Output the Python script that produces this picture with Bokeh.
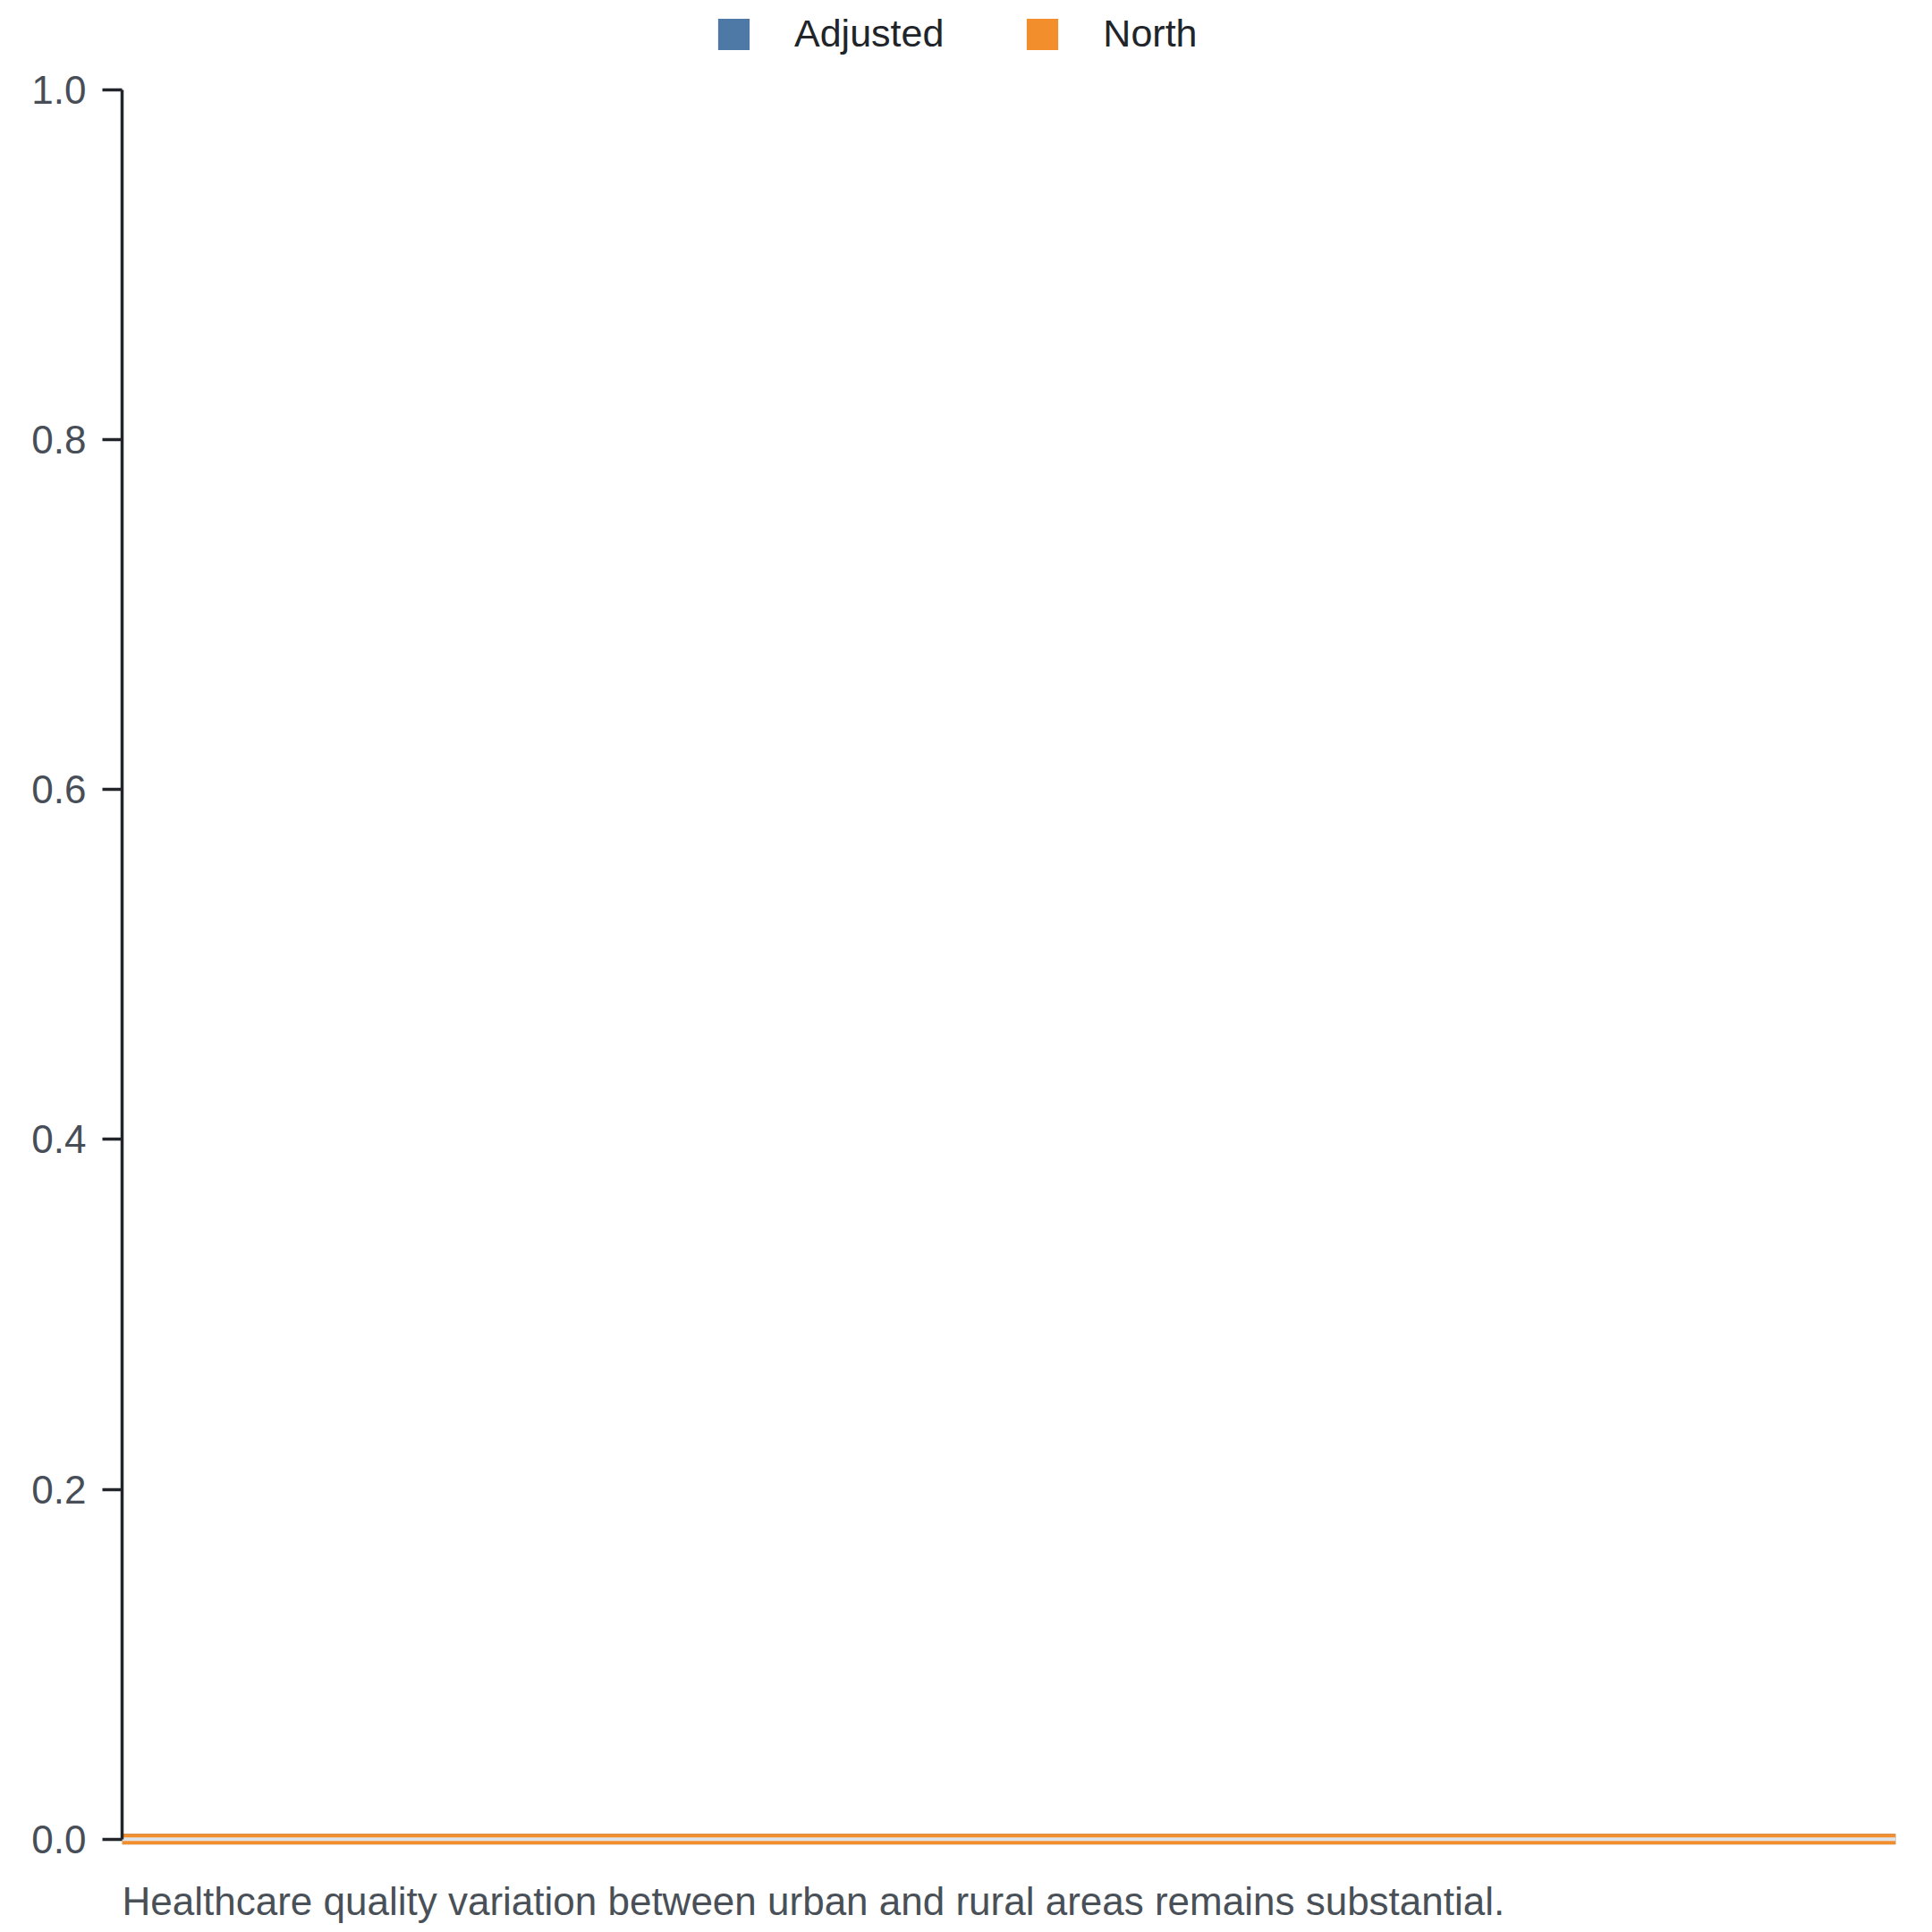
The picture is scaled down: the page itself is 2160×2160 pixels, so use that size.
from bokeh.plotting import figure
from bokeh.models import Legend, LegendItem, FixedTicker, PrintfTickFormatter, Range1d, Title
from bokeh.embed import file_html
from bokeh.resources import INLINE

# ---- data ----
periods = [1, 2, 3, 4, 5, 6]
adjusted = [0, 0, 0, 0, 0, 0]
north = [0, 0, 0, 0, 0, 0]
y_ticks = [0.0, 0.2, 0.4, 0.6, 0.8, 1.0]
series_names = ["Adjusted", "North"]
caption = "Healthcare quality variation between urban and rural areas remains substantial."

BLUE = "#4e79a7"
ORANGE = "#f28e2b"
FONT = "Liberation Sans"

p = figure(
    frame_width=1983, frame_height=2062,
    min_border_left=136, min_border_right=25, min_border_top=0, min_border_bottom=60,
    x_range=Range1d(min(periods), max(periods)),
    y_range=Range1d(-0.00322, 1.05113),
    x_axis_location=None,
    output_backend="svg", toolbar_location=None,
    background_fill_color="white", border_fill_color="white",
)
p.outline_line_color = None
p.grid.visible = False

yaxis = p.yaxis[0]
yaxis.ticker = FixedTicker(ticks=y_ticks)
yaxis.formatter = PrintfTickFormatter(format="%.1f")
yaxis.bounds = (0, 1)
yaxis.axis_line_color = "#212529"
yaxis.axis_line_width = 3.5
yaxis.major_tick_line_color = "#212529"
yaxis.major_tick_line_width = 3.5
yaxis.major_tick_out = 22
yaxis.major_tick_in = 0
yaxis.minor_tick_out = 0
yaxis.minor_tick_in = 0
yaxis.major_label_standoff = 18
yaxis.major_label_text_font = FONT
yaxis.major_label_text_font_size = "44px"
yaxis.major_label_text_color = "#474e57"

# legend proxies (zero-height areas)
r_adj = p.varea(x=periods, y1=[0] * len(periods), y2=adjusted, fill_color=BLUE)
r_north = p.varea(x=periods, y1=[0] * len(periods), y2=north, fill_color=ORANGE)

# visible series lines at zero
p.line(periods, adjusted, line_color=BLUE, line_width=12)
p.line(periods, north, line_color=ORANGE, line_width=12)
p.line(periods, north, line_color="#e1e4e7", line_width=4)

legend = Legend(
    items=[LegendItem(label=series_names[0], renderers=[r_adj]),
           LegendItem(label=series_names[1], renderers=[r_north])],
    orientation="horizontal",
    location=(662, 2000),
    glyph_width=44, glyph_height=44,
    label_standoff=46, spacing=88,
    padding=0, margin=0,
    label_text_font=FONT, label_text_font_size="43px", label_text_color="#212529",
    border_line_color=None, background_fill_alpha=0,
)
p.add_layout(legend, "center")

p.add_layout(Title(text=caption, align="left", text_font=FONT, text_font_size="44px",
                   text_font_style="normal", text_color="#495057", standoff=73), "below")

open("out.html", "w").write(file_html(p, INLINE))
